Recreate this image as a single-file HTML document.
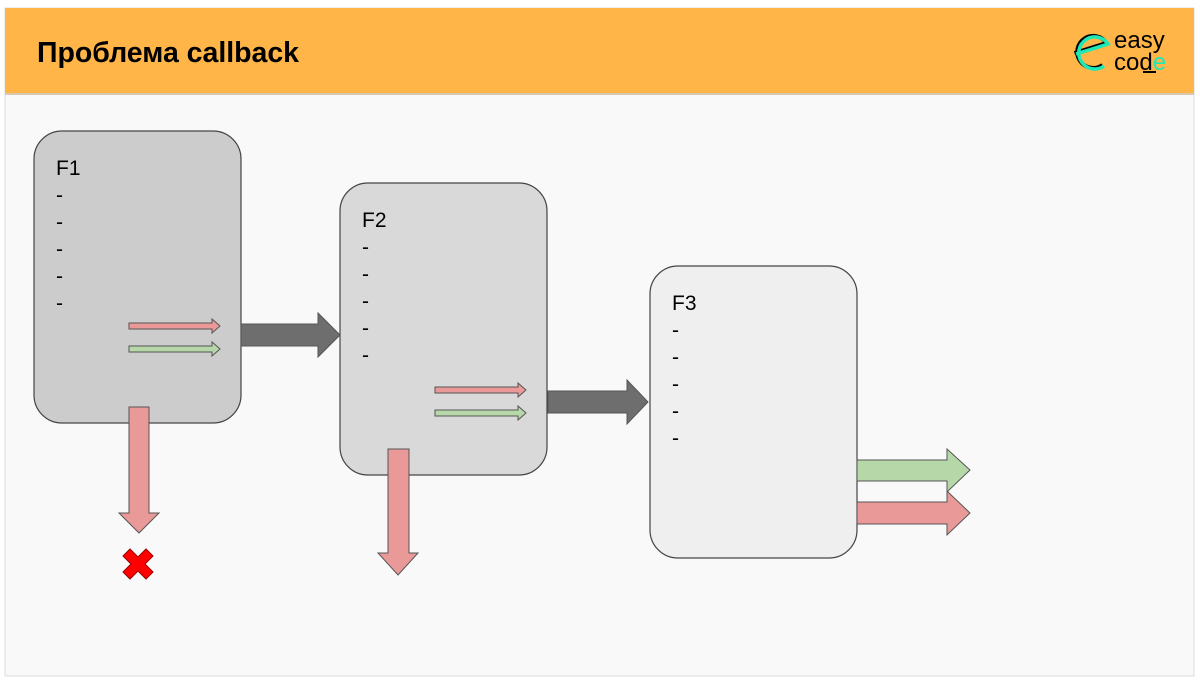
<!DOCTYPE html>
<html><head><meta charset="utf-8"><style>
html,body{margin:0;padding:0;background:#fff;width:1200px;height:681px;overflow:hidden}
svg{display:block}
text{font-family:"Liberation Sans",sans-serif}
</style></head><body>
<svg width="1200" height="681" viewBox="0 0 1200 681">
<rect x="5" y="8" width="1189" height="668" fill="#f9f9f9" stroke="#dcdcdc"/>
<rect x="5" y="8" width="1189" height="86" fill="#ffb547"/>
<rect x="5" y="93" width="1189" height="2" fill="#d8c8b0"/>
<text x="37" y="62" font-size="28.5" font-weight="bold" fill="#000" textLength="262">Проблема callback</text>
<!-- logo -->
<path d="M1076 54 L1108 44 A16 16 0 1 0 1104 66" fill="none" stroke="#000" stroke-width="4" transform="translate(-1.5,-1)"/>
<path d="M1076 54 L1108 44 A16 16 0 1 0 1104 66" fill="none" stroke="#1de9b6" stroke-width="3.5"/>
<text x="1114" y="48" font-size="24" fill="#000">easy</text>
<text x="1114" y="70" font-size="24" fill="#000">cod<tspan fill="#1de9b6">e</tspan></text>
<rect x="1143" y="71" width="13" height="2" fill="#000"/>
<!-- boxes -->
<rect x="34" y="131" width="207" height="292" rx="28" fill="#cccccc" stroke="#444" stroke-width="1.2"/>
<rect x="340" y="183" width="207" height="292" rx="28" fill="#d9d9d9" stroke="#444" stroke-width="1.2"/>
<rect x="650" y="266" width="207" height="292" rx="28" fill="#efefef" stroke="#444" stroke-width="1.2"/>
<g font-size="21" fill="#000">
<text x="56" y="175">F1</text>
<text x="56" y="202">-</text><text x="56" y="229">-</text><text x="56" y="256">-</text><text x="56" y="283">-</text><text x="56" y="310">-</text>
<text x="362" y="227">F2</text>
<text x="362" y="254">-</text><text x="362" y="281">-</text><text x="362" y="308">-</text><text x="362" y="335">-</text><text x="362" y="362">-</text>
<text x="672" y="310">F3</text>
<text x="672" y="337">-</text><text x="672" y="364">-</text><text x="672" y="391">-</text><text x="672" y="418">-</text><text x="672" y="445">-</text>
</g>
<g stroke="#555" stroke-width="1">
<path d="M129 323 H212 V319 L220 326 L212 333 V329 H129 Z" fill="#ea9999"/>
<path d="M129 346 H212 V342 L220 349 L212 356 V352 H129 Z" fill="#b6d7a8"/>
<path d="M435 387 H518 V383 L526 390 L518 397 V393 H435 Z" fill="#ea9999"/>
<path d="M435 410 H518 V406 L526 413 L518 420 V416 H435 Z" fill="#b6d7a8"/>
<path d="M241 324 H318 V313 L340 335 L318 357 V346 H241 Z" fill="#6e6e6e"/>
<path d="M548 391 H627 V380 L648 402 L627 424 V413 H548 Z" fill="#6e6e6e"/>
<path d="M129 407 H149 V513 H159 L139 533 L119 513 H129 Z" fill="#ea9999"/>
<path d="M388 449 H409 V553 H418 L398 575 L378 553 H388 Z" fill="#ea9999"/>
<path d="M857 460 H947 V449 L970 470 L947 492 V481 H857 Z" fill="#b6d7a8"/>
<path d="M857 502 H947 V491 L970 513 L947 535 V524 H857 Z" fill="#ea9999"/>
<path d="M130 549 L138 557 L146 549 L153 556 L145 564 L153 572 L146 579 L138 571 L130 579 L123 572 L131 564 L123 556 Z" fill="#ff0000" stroke="#900"/>
</g>
</svg>
</body></html>
